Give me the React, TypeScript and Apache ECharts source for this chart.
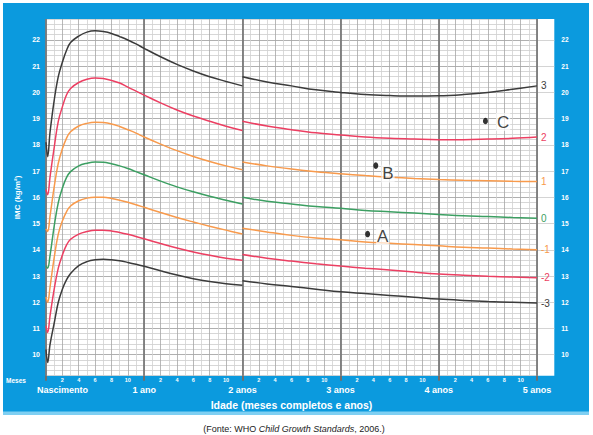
import React, { useEffect, useRef } from 'react';
import * as echarts from 'echarts';

// Idade em meses (0-24: comprimento; 24-60: altura)
const lengthMonths = [0, 0.2, 0.5, 1, 1.5, 2, 2.5, 3, 4, 5, 6, 7, 8, 9, 10, 11, 12, 14, 16, 18, 20, 22, 24];
const heightMonths = [24, 27, 30, 33, 36, 39, 42, 45, 48, 51, 54, 57, 60];

// Escores-z do IMC (kg/m²)
const sd3Length = [18.1, 17.55, 18.5, 19.7, 20.6, 21.15, 21.6, 21.9, 22.15, 22.3, 22.35, 22.32, 22.25, 22.13, 22.0, 21.85, 21.68, 21.36, 21.07, 20.82, 20.6, 20.42, 20.25];
const sd2Length = [16.3, 16.1, 16.8, 17.9, 18.9, 19.45, 19.9, 20.15, 20.38, 20.5, 20.55, 20.53, 20.46, 20.36, 20.2, 20.05, 19.9, 19.6, 19.33, 19.1, 18.9, 18.71, 18.55];
const sd1Length = [14.8, 14.7, 15.3, 16.4, 17.3, 17.85, 18.25, 18.5, 18.72, 18.82, 18.86, 18.85, 18.8, 18.7, 18.58, 18.45, 18.3, 18.03, 17.78, 17.56, 17.37, 17.2, 17.05];
const sd0Length = [13.4, 13.3, 13.8, 14.9, 15.8, 16.35, 16.75, 16.98, 17.2, 17.3, 17.35, 17.34, 17.28, 17.2, 17.1, 16.98, 16.86, 16.62, 16.4, 16.21, 16.04, 15.89, 15.75];
const sdNeg1Length = [12.2, 12.0, 12.6, 13.7, 14.6, 15.1, 15.45, 15.67, 15.87, 15.97, 16.0, 16.0, 15.96, 15.89, 15.81, 15.72, 15.62, 15.42, 15.23, 15.06, 14.9, 14.75, 14.6];
const sdNeg2Length = [11.1, 10.85, 11.5, 12.5, 13.3, 13.8, 14.18, 14.4, 14.6, 14.7, 14.75, 14.75, 14.72, 14.66, 14.59, 14.51, 14.42, 14.24, 14.07, 13.92, 13.79, 13.68, 13.6];
const sdNeg3Length = [10.2, 9.7, 10.4, 11.2, 12.0, 12.5, 12.85, 13.1, 13.4, 13.55, 13.62, 13.64, 13.62, 13.58, 13.52, 13.45, 13.37, 13.2, 13.04, 12.9, 12.79, 12.71, 12.65];

const sd3Height = [20.6, 20.4, 20.25, 20.1, 20.0, 19.92, 19.88, 19.86, 19.87, 19.92, 20.0, 20.12, 20.25];
const sd2Height = [18.9, 18.72, 18.58, 18.46, 18.38, 18.3, 18.25, 18.22, 18.2, 18.2, 18.22, 18.25, 18.3];
const sd1Height = [17.35, 17.2, 17.08, 16.98, 16.9, 16.83, 16.77, 16.72, 16.68, 16.65, 16.63, 16.61, 16.6];
const sd0Height = [16.0, 15.85, 15.75, 15.65, 15.58, 15.5, 15.45, 15.4, 15.35, 15.3, 15.27, 15.23, 15.2];
const sdNeg1Height = [14.82, 14.68, 14.55, 14.45, 14.38, 14.3, 14.25, 14.2, 14.15, 14.1, 14.07, 14.03, 14.0];
const sdNeg2Height = [13.82, 13.68, 13.57, 13.47, 13.38, 13.3, 13.23, 13.15, 13.08, 13.03, 12.99, 12.96, 12.93];
const sdNeg3Height = [12.82, 12.7, 12.6, 12.5, 12.4, 12.33, 12.26, 12.19, 12.12, 12.07, 12.03, 12.0, 11.97];

// Pontos marcados
const pointNames = ['A', 'B', 'C'];
const pointMonths = [39.3, 40.3, 53.7];
const pointBmi = [14.6, 17.21, 18.91];

// Rótulos
const yearLabels = ['Nascimento', '1 ano', '2 anos', '3 anos', '4 anos', '5 anos'];

const curves = [
  { name: '3', length: sd3Length, height: sd3Height, color: '#3b3b3b' },
  { name: '2', length: sd2Length, height: sd2Height, color: '#ec3f62' },
  { name: '1', length: sd1Length, height: sd1Height, color: '#f89a4c' },
  { name: '0', length: sd0Length, height: sd0Height, color: '#3c9f62' },
  { name: '-1', length: sdNeg1Length, height: sdNeg1Height, color: '#f89a4c' },
  { name: '-2', length: sdNeg2Length, height: sdNeg2Height, color: '#ec3f62' },
  { name: '-3', length: sdNeg3Length, height: sdNeg3Height, color: '#3b3b3b' },
];

const labelOffsets = [[3, 2], [0, 8], [5, 1]];

const FONT = "'Liberation Sans', Arial, sans-serif";
const BLUE = '#0b9ade';

const intLabel = (v: number) => (Math.abs(v - Math.round(v)) < 1e-6 ? String(Math.round(v)) : '');

const App: React.FC = () => {
  const chartRef = useRef<HTMLDivElement>(null);

  useEffect(() => {
    document.body.style.margin = '0';
    if (!chartRef.current) return;
    const chart = echarts.init(chartRef.current, undefined, { renderer: 'svg' });

    const lineSeries: any[] = [];
    curves.forEach((c) => {
      const common = {
        type: 'line',
        xAxisIndex: 0,
        yAxisIndex: 0,
        showSymbol: false,
        smooth: 0.4,
        silent: true,
        z: 3,
        lineStyle: { width: 1.5, color: c.color },
        itemStyle: { color: c.color },
      };
      lineSeries.push({
        ...common,
        name: c.name + ' (comprimento)',
        data: lengthMonths.map((m, i) => [m, c.length[i]]),
      });
      lineSeries.push({
        ...common,
        name: c.name + ' (altura)',
        data: heightMonths.map((m, i) => [m, c.height[i]]),
        endLabel: {
          show: true,
          formatter: c.name,
          color: c.color,
          fontSize: 10,
          fontFamily: FONT,
          distance: 4,
        },
      });
    });

    const option: any = {
      animation: false,
      backgroundColor: '#fff',
      graphic: [
        { type: 'rect', z: -20, shape: { x: 3, y: 3, width: 586, height: 409 }, style: { fill: BLUE } },
        { type: 'rect', z: -20, shape: { x: 3, y: 411.5, width: 586, height: 3.5 }, style: { fill: '#7fcff2' } },
        { type: 'rect', z: -19, shape: { x: 46, y: 19, width: 508.3, height: 356.7 }, style: { fill: '#fff' } },
        {
          type: 'text',
          x: 16,
          y: 380,
          style: {
            text: 'Meses',
            fill: '#fff',
            fontSize: 6.5,
            fontWeight: 'bold',
            fontFamily: FONT,
            align: 'center',
            verticalAlign: 'middle',
          },
        },
        {
          type: 'text',
          x: 294,
          y: 429,
          style: {
            text: '(Fonte: WHO {i|Child Growth Standards}, 2006.)',
            fill: '#222',
            fontSize: 9,
            fontFamily: FONT,
            align: 'center',
            verticalAlign: 'middle',
            rich: {
              i: { fontStyle: 'italic', fontSize: 9, fontFamily: FONT, fill: '#222' },
            },
          },
        },
      ],
      grid: [
        { left: 46, top: 19, width: 491, height: 356.7 },
        { left: 537, top: 19, width: 17.3, height: 356.7 },
      ],
      xAxis: [
        {
          gridIndex: 0,
          type: 'value',
          position: 'bottom',
          min: 0,
          max: 60,
          interval: 1,
          axisLine: { show: false },
          axisTick: { show: false },
          splitLine: { show: true, lineStyle: { color: ['#a6a6a6', '#d0d0d0'], width: 0.8 } },
          axisLabel: {
            formatter: (v: number) => {
              const m = Math.round(v) % 12;
              return m !== 0 && m % 2 === 0 ? String(m) : '';
            },
            color: '#fff',
            fontSize: 5.5,
            fontWeight: 'bold',
            fontFamily: FONT,
            margin: 1.5,
          },
        },
        {
          gridIndex: 0,
          type: 'value',
          position: 'bottom',
          z: 1,
          min: 0,
          max: 60,
          interval: 12,
          axisLine: { show: false },
          axisTick: { show: true, length: 5, lineStyle: { color: '#6e6e6e', width: 2 } },
          splitLine: { show: true, lineStyle: { color: '#7a7a7a', width: 1.8 } },
          axisLabel: {
            formatter: (v: number) => {
              const idx = Math.round(v / 12);
              return idx === 0 ? '{n|' + yearLabels[0] + '}' : yearLabels[idx];
            },
            color: '#fff',
            fontSize: 9,
            fontWeight: 'bold',
            fontFamily: FONT,
            margin: 10,
            rich: {
              n: { padding: [0, 0, 0, 33], color: '#fff', fontSize: 9, fontWeight: 'bold', fontFamily: FONT },
            },
          },
          name: 'Idade (meses completos e anos)',
          nameLocation: 'middle',
          nameGap: 24,
          nameTextStyle: { color: '#fff', fontSize: 10.5, fontWeight: 'bold', fontFamily: FONT },
        },
        { gridIndex: 1, type: 'value', min: 0, max: 1, show: false },
      ],
      yAxis: [
        {
          gridIndex: 0,
          type: 'value',
          min: 9.2,
          max: 22.8,
          interval: 0.2,
          axisLine: { show: false },
          axisTick: { show: false },
          splitLine: {
            show: true,
            lineStyle: { color: ['#cdcdcd', '#cdcdcd', '#cdcdcd', '#cdcdcd', '#9c9c9c'], width: 0.8 },
          },
          axisLabel: {
            formatter: intLabel,
            color: '#fff',
            fontSize: 7,
            fontWeight: 'bold',
            fontFamily: FONT,
            margin: 6,
          },
          name: 'IMC (kg/m²)',
          nameLocation: 'middle',
          nameRotate: 90,
          nameGap: 23,
          nameTextStyle: { color: '#fff', fontSize: 8, fontWeight: 'bold', fontFamily: FONT },
        },
        {
          gridIndex: 1,
          type: 'value',
          position: 'right',
          min: 9.2,
          max: 22.8,
          interval: 0.2,
          axisLine: { show: false },
          axisTick: { show: false },
          splitLine: {
            show: true,
            lineStyle: {
              color: ['transparent', 'transparent', 'transparent', 'transparent', '#c9c9c9'],
              width: 0.8,
            },
          },
          axisLabel: {
            formatter: intLabel,
            color: '#fff',
            fontSize: 6.5,
            fontWeight: 'bold',
            fontFamily: FONT,
            margin: 7,
          },
        },
      ],
      series: [
        ...lineSeries,
        {
          type: 'scatter',
          name: 'Pontos',
          xAxisIndex: 0,
          yAxisIndex: 0,
          symbol: 'circle',
          symbolSize: [5, 6.5],
          z: 5,
          itemStyle: { color: '#000' },
          label: {
            show: true,
            position: 'right',
            distance: 3,
            formatter: '{b}',
            fontSize: 17,
            color: '#111',
            fontFamily: FONT,
            backgroundColor: 'rgba(255,255,255,0.85)',
            padding: [1, 1, 0, 1],
          },
          data: pointNames.map((n, i) => ({
            name: n,
            value: [pointMonths[i], pointBmi[i]],
            label: { offset: labelOffsets[i] },
          })),
        },
      ],
    };

    chart.setOption(option);

    return () => {
      chart.dispose();
    };
  }, []);

  return <div ref={chartRef} style={{ width: 593, height: 435 }} />;
};

export default App;
